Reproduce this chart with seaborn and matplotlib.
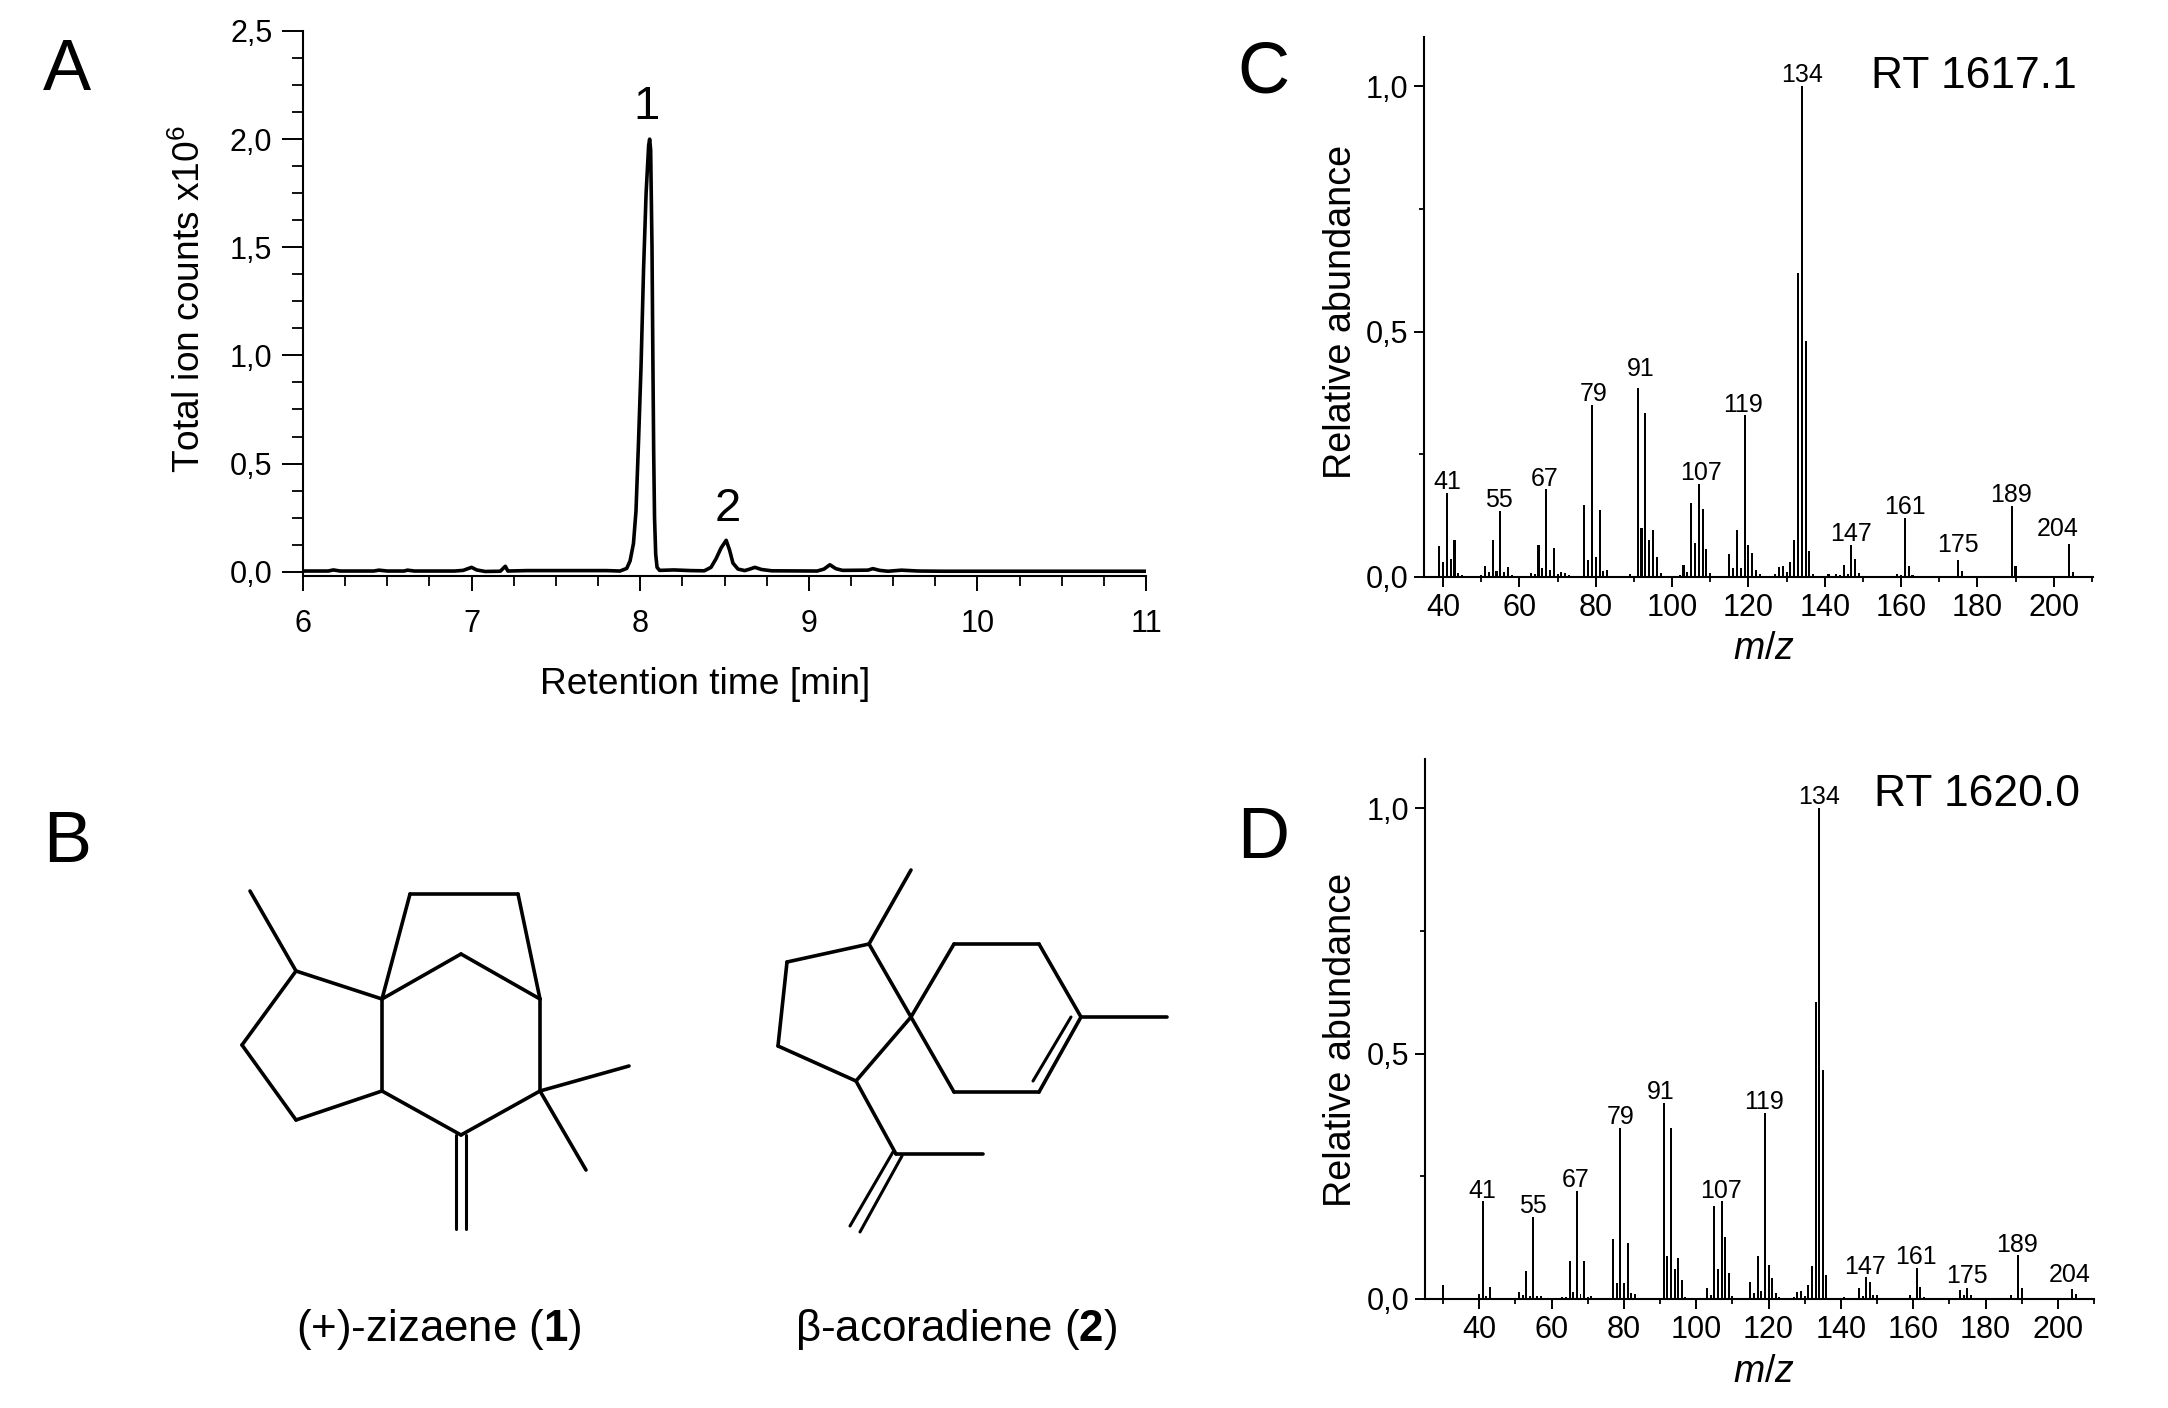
#!/usr/bin/env python3
import matplotlib
matplotlib.use("Agg")
import matplotlib.pyplot as plt
from matplotlib.ticker import FixedLocator, FuncFormatter, MultipleLocator
import pandas as pd
import seaborn as sns

W, H = 2168, 1408

# panel A, chromatogram
TIC_TIME = [
    6.0, 6.15, 6.18, 6.22, 6.42, 6.45, 6.5, 6.6, 6.62, 6.66, 6.9, 6.95, 7.0, 7.03, 7.08, 7.17,
    7.2, 7.215, 7.33, 7.6, 7.8, 7.88, 7.92, 7.94, 7.96, 7.975, 7.99, 8.005, 8.02, 8.035, 8.05,
    8.056, 8.062, 8.07, 8.075, 8.08, 8.085, 8.092, 8.1, 8.115, 8.2, 8.3, 8.38, 8.42, 8.45,
    8.48, 8.51, 8.53, 8.55, 8.58, 8.62, 8.65, 8.68, 8.72, 8.78, 9.05, 9.09, 9.125, 9.16, 9.2,
    9.35, 9.38, 9.42, 9.47, 9.55, 9.65, 9.8, 11.0,
]
TIC_COUNTS = [
    .003, .003, .008, .003, .003, .007, .003, .003, .007, .003, .003, .006, .02, .008, .001, .002,
    .025, .003, .005, .005, .005, .003, .015, .05, .13, .28, .6, .95, 1.4, 1.75, 1.97,
    2.0, 1.95, 1.5, 1.0, .55, .25, .08, .02, .006, .008, .005, .004, .02, .06,
    .11, .145, .1, .04, .012, .005, .012, .02, .01, .004, .003, .012, .032, .014, .006,
    .007, .014, .006, .002, .007, .003, .002, .002,
]

# panel C, RT 1617.1
C_MZ = [
    39, 40, 41, 42, 43, 44, 45, 50, 51, 52, 53, 54, 55, 56, 57, 58, 63, 64, 65, 66, 67, 68, 69,
    70, 71, 72, 73, 77, 78, 79, 80, 81, 82, 83, 89, 91, 92, 93, 94, 95, 96, 97, 102, 103, 104,
    105, 106, 107, 108, 109, 110, 115, 116, 117, 118, 119, 120, 121, 122, 123, 127, 128, 129,
    130, 131, 132, 133, 134, 135, 136, 137, 141, 142, 143, 144, 145, 146, 147, 148, 149, 159,
    160, 161, 162, 163, 173, 175, 176, 189, 190, 203, 204, 205,
]
C_ABUND = [
    .064, .031, .171, .037, .076, .008, .004, .004, .023, .011, .076, .013, .135, .010, .021,
    .004, .008, .007, .066, .019, .179, .015, .060, .007, .011, .008, .004, .147, .035, .351,
    .041, .137, .013, .015, .007, .386, .099, .334, .076, .096, .041, .009, .004, .025, .011,
    .151, .070, .190, .139, .058, .009, .046, .019, .096, .019, .329, .066, .048, .015, .007,
    .007, .021, .023, .011, .031, .076, .62, 1.0, .48, .052, .007, .007, .003, .006, .005,
    .025, .007, .066, .037, .008, .007, .005, .121, .023, .004, .003, .035, .013, .145, .023,
    .003, .068, .011,
]
C_LABELS = [41, 55, 67, 79, 91, 107, 119, 134, 147, 161, 175, 189, 204]
C_LABEL_SHIFT = [0, -1, -1, 2, 3, 2, -2, 0, 0, 0, 0, -1, -11]
C_LABEL_LIFT = [0, 0, 0, 0, 6, 0, 0, 0, 0, 0, 3, 0, 3]

# panel D, RT 1620.0
D_MZ = [
    30, 40, 41, 42, 43, 44, 50, 51, 52, 53, 54, 55, 56, 57, 58, 63, 64, 65, 66, 67, 68, 69, 70,
    71, 76, 77, 78, 79, 80, 81, 82, 83, 89, 91, 92, 93, 94, 95, 96, 97, 102, 103, 104, 105, 106,
    107, 108, 109, 110, 115, 116, 117, 118, 119, 120, 121, 122, 123, 127, 128, 129, 130, 131,
    132, 133, 134, 135, 136, 137, 141, 143, 144, 145, 146, 147, 148, 149, 150, 159, 160, 161,
    162, 163, 173, 174, 175, 176, 187, 189, 190, 204, 205,
]
D_ABUND = [
    .029, .011, .199, .007, .025, .003, .003, .015, .009, .058, .007, .168, .007, .007, .003,
    .005, .005, .078, .015, .22, .011, .078, .004, .007, .003, .123, .033, .349, .033, .115,
    .013, .011, .003, .40, .087, .349, .062, .083, .038, .005, .003, .023, .009, .189, .062,
    .199, .126, .052, .007, .035, .013, .087, .017, .379, .07, .042, .013, .005, .005, .015,
    .017, .007, .029, .068, .606, 1.0, .467, .048, .003, .005, .003, .003, .023, .007, .044,
    .035, .009, .009, .009, .003, .064, .025, .005, .019, .009, .023, .009, .009, .089, .023,
    .021, .011,
]
D_LABELS = [41, 55, 67, 79, 91, 107, 119, 134, 147, 161, 175, 189, 204]
D_LABEL_SHIFT = [-1, -1, -1, 0, -3, -1, -1, 0, -1, -1, 0, -1, -3]
D_LABEL_LIFT = [0, 0, 0, 0, 0, 0, 0, 0, 0, 0, 1, 0, 2]

# panel B, structures in figure pixels
ZIZAENE_ATOMS = {
    "a": (250, 891), "b": (296, 971), "c": (382, 999), "d": (242, 1045), "e": (296, 1120),
    "f": (382, 1091), "g": (461, 1135), "h": (540, 1091), "i": (540, 999), "j": (461, 954),
    "k": (410, 894), "l": (518, 894), "m": (629, 1066), "n": (586, 1170),
}
ZIZAENE_BONDS = ["ab", "bc", "bd", "de", "ef", "fc", "fg", "gh", "hi", "ij", "jc", "ck", "kl", "li", "hm", "hn"]
ZIZAENE_EXTRA = [((456, 1135), (456, 1229)), ((466, 1135), (466, 1229))]

ACORADIENE_ATOMS = {
    "a": (911, 870), "b": (869, 944), "c": (787, 962), "d": (778, 1046), "e": (856, 1081),
    "f": (911, 1017), "g": (954, 944), "h": (1039, 944), "i": (1081, 1017), "j": (1039, 1092),
    "k": (954, 1092), "l": (1167, 1017), "m": (896, 1154), "n": (983, 1154),
}
ACORADIENE_BONDS = ["ab", "bc", "cd", "de", "ef", "bf", "fg", "gh", "hi", "ij", "jk", "kf", "il", "em", "mn"]
ACORADIENE_EXTRA = [
    ((893, 1152), (850, 1226)), ((902, 1156), (860, 1232)), ((1071, 1017), (1033, 1081)),
]


def comma(value, _pos):
    return "{:.1f}".format(value).replace(".", ",")


def px_axes(fig, left, top, right, bottom):
    return fig.add_axes([left / W, 1 - bottom / H, (right - left) / W, (bottom - top) / H])


def style_ticks(ax, major_len, minor_len, axis="both"):
    ax.tick_params(axis=axis, which="major", length=major_len * 0.72, width=1.4, color="black")
    ax.tick_params(axis=axis, which="minor", length=minor_len * 0.72, width=1.3, color="black")
    for side in ("left", "bottom"):
        ax.spines[side].set_linewidth(1.5)
    sns.despine(ax=ax)


def draw_spectrum(fig, box, mz, abund, labels, shifts, lifts, xlim, rt_text, rt_pos, xticks):
    ax = px_axes(fig, *box)
    data = pd.DataFrame({"mz": mz, "abundance": abund})
    sns.barplot(data=data, x="mz", y="abundance", native_scale=True, width=0.55,
                color="black", saturation=1, linewidth=0, errorbar=None, ax=ax)
    ax.set_xlim(*xlim)
    ax.set_ylim(0, 1.10)
    ax.xaxis.set_major_locator(FixedLocator(xticks))
    ax.xaxis.set_minor_locator(MultipleLocator(10))
    ax.yaxis.set_major_locator(FixedLocator([0, 0.5, 1.0]))
    ax.yaxis.set_minor_locator(FixedLocator([0.25, 0.75]))
    ax.yaxis.set_major_formatter(FuncFormatter(comma))
    ax.tick_params(axis="both", labelsize=22, pad=4)
    style_ticks(ax, 10, 5)
    ax.set_xlabel("")
    ax.set_ylabel("")
    heights = dict(zip(mz, abund))
    for peak, shift, lift in zip(labels, shifts, lifts):
        ax.annotate(str(peak), (peak, heights[peak]), xytext=(shift * 0.72, lift - 1),
                    textcoords="offset points", ha="center", va="bottom", fontsize=18)
    ax.text(rt_pos[0], rt_pos[1], rt_text, fontsize=32, ha="center", va="center")
    return ax


def draw_molecule(ax, atoms, bonds, extra):
    for bond in bonds:
        p, q = atoms[bond[0]], atoms[bond[1]]
        ax.plot([p[0], q[0]], [p[1], q[1]], color="black", lw=2.6, solid_capstyle="round")
    for p, q in extra:
        ax.plot([p[0], q[0]], [p[1], q[1]], color="black", lw=2.2)


def main():
    sns.set_theme(style="ticks", context="notebook")
    plt.rcParams["font.family"] = ["Liberation Sans", "DejaVu Sans"]
    plt.rcParams["mathtext.fontset"] = "custom"
    plt.rcParams["mathtext.rm"] = "Liberation Sans"
    plt.rcParams["mathtext.it"] = "Liberation Sans:italic"
    plt.rcParams["mathtext.bf"] = "Liberation Sans:bold"
    plt.rcParams["text.color"] = "black"
    plt.rcParams["xtick.color"] = "black"
    plt.rcParams["ytick.color"] = "black"
    plt.rcParams["axes.edgecolor"] = "black"

    fig = plt.figure(figsize=(W / 100, H / 100), dpi=100, facecolor="white")

    # A
    ax_a = px_axes(fig, 303, 31, 1146, 576)
    tic = pd.DataFrame({"time": TIC_TIME, "counts": TIC_COUNTS})
    sns.lineplot(data=tic, x="time", y="counts", color="black", lw=2.6, errorbar=None,
                 estimator=None, sort=False, ax=ax_a)
    ax_a.set_xlim(6, 11)
    ax_a.set_ylim(-0.02, 2.5)
    ax_a.xaxis.set_major_locator(MultipleLocator(1))
    ax_a.xaxis.set_minor_locator(MultipleLocator(0.25))
    ax_a.yaxis.set_major_locator(MultipleLocator(0.5))
    ax_a.yaxis.set_minor_locator(MultipleLocator(0.125))
    ax_a.yaxis.set_major_formatter(FuncFormatter(comma))
    ax_a.tick_params(axis="x", labelsize=22, pad=13)
    ax_a.tick_params(axis="y", labelsize=22, pad=7)
    style_ticks(ax_a, 15, 10, axis="x")
    style_ticks(ax_a, 21, 11, axis="y")
    ax_a.set_xlabel("")
    ax_a.set_ylabel("")
    ax_a.annotate("1", (8.056, 2.0), xytext=(-2, 7), textcoords="offset points",
                  ha="center", va="bottom", fontsize=34)
    ax_a.annotate("2", (8.51, 0.145), xytext=(1, 7), textcoords="offset points",
                  ha="center", va="bottom", fontsize=34)

    # C and D
    draw_spectrum(fig, (1424, 37, 2093, 577), C_MZ, C_ABUND, C_LABELS, C_LABEL_SHIFT, C_LABEL_LIFT,
                  (35, 210.3), "RT 1617.1", (179, 1.02), list(range(40, 201, 20)))
    draw_spectrum(fig, (1425, 759, 2094, 1299), D_MZ, D_ABUND, D_LABELS, D_LABEL_SHIFT, D_LABEL_LIFT,
                  (25, 210), "RT 1620.0", (177.6, 1.027), list(range(40, 201, 20)))

    # overlay for structures and free text, in figure pixels
    over = fig.add_axes([0, 0, 1, 1], zorder=5)
    over.set_xlim(0, W)
    over.set_ylim(H, 0)
    over.axis("off")
    over.patch.set_alpha(0)
    draw_molecule(over, ZIZAENE_ATOMS, ZIZAENE_BONDS, ZIZAENE_EXTRA)
    draw_molecule(over, ACORADIENE_ATOMS, ACORADIENE_BONDS, ACORADIENE_EXTRA)

    for letter, x, y in [("A", 67, 72), ("B", 67, 844), ("C", 1263, 74), ("D", 1263, 839)]:
        over.text(x, y, letter, fontsize=52, ha="center", va="center")

    over.text(190, 299, "Total ion counts x10$^{6}$", fontsize=26.7, rotation=90, ha="center", va="center")
    over.text(705, 685, "Retention time [min]", fontsize=26.7, ha="center", va="center")
    over.text(1341, 312, "Relative abundance", fontsize=27.2, rotation=90, ha="center", va="center")
    over.text(1341, 1040, "Relative abundance", fontsize=27.2, rotation=90, ha="center", va="center")
    over.text(1764, 649, "$\\mathit{m/z}$", fontsize=27, ha="center", va="center")
    over.text(1764, 1372, "$\\mathit{m/z}$", fontsize=27, ha="center", va="center")
    over.text(439, 1330, "(+)-zizaene ($\\mathbf{1}$)", fontsize=31.6, ha="center", va="center")
    over.text(956, 1330, "β-acoradiene ($\\mathbf{2}$)", fontsize=31.6, ha="center", va="center")

    fig.savefig("out.png", dpi=100)


if __name__ == "__main__":
    main()
